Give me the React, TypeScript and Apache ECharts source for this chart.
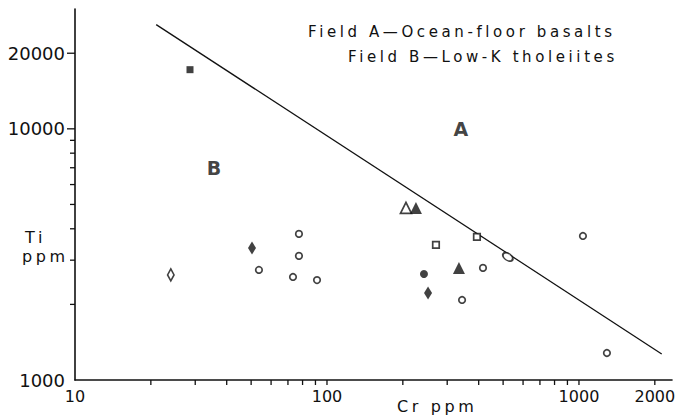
import React, { useEffect, useRef } from "react";
import * as echarts from "echarts";

const INK = "#111111";
const FONT = '"DejaVu Sans", "Noto Sans", sans-serif';

// axis ranges and ticks
const xRange = [10, 2340];
const yRange = [1000, 30000];
const xMajorTicks = [100, 1000, 2000];
const xMinorTicks = [20, 30, 40, 50, 60, 70, 80, 90, 200, 300, 400, 500, 600, 700, 800, 900];
const yMajorTicks = [10000, 20000];
const yMinorTicks = [2000, 3000, 4000, 5000, 6000, 7000, 8000, 9000];
const xExtraLabels = [2000];
const yExtraLabels = [20000];

// data points [Cr ppm, Ti ppm]
const openCircles = [
  [53.7, 2743], [77.4, 3817], [77.4, 3119], [73.3, 2572], [91.3, 2500],
  [343.6, 2083], [416, 2794], [1037, 3745], [1291, 1281],
];
const filledCircles = [[242.6, 2644]];
const openSquares = [[270.7, 3451], [393.6, 3714]];
const filledSquares = [[28.6, 17200]];
const openTriangles = [[205.8, 4842]];
const filledTriangles = [[225.5, 4842], [334, 2794]];
const openDiamonds = [[24.0, 2620]];
const filledDiamonds = [[50.4, 3357], [251.8, 2221]];
const openEllipses = [[522, 3091]];

// boundary between fields A and B
const boundaryLine = [[21, 26000], [2130, 1270]];
const fieldNames = ["A", "B"];
const fieldPositions = [[340, 10000], [35.6, 6990]];

const SPACED = new Set([
  "Field A—Ocean-floor basalts",
  "Field B—Low-K tholeiites",
  "Cr ppm",
  "Ti",
  "ppm",
]);

const isPow10 = (v: number) => Math.abs(Math.log10(v) - Math.round(Math.log10(v))) < 1e-6;

function marker(name: string, data: number[][], symbol: string, size: any, filled: boolean, rotate = 0, z = 3) {
  return {
    type: "scatter",
    name,
    data,
    symbol,
    symbolSize: size,
    symbolRotate: rotate,
    silent: true,
    z,
    itemStyle: filled
      ? { color: INK, borderWidth: 0 }
      : { color: "#ffffff", borderColor: INK, borderWidth: 1.7 },
  };
}

export default function App() {
  const ref = useRef<HTMLDivElement>(null);

  useEffect(() => {
    const el = ref.current!;
    const chart = echarts.init(el, null, { renderer: "svg" });

    const xTickData = xMajorTicks.concat(xMinorTicks).map((v) => [v, yRange[0]]);
    const yTickData = yMajorTicks
      .map((v) => [xRange[0], v, 8])
      .concat(yMinorTicks.map((v) => [xRange[0], v, 5]));

    const option: any = {
      animation: false,
      backgroundColor: "#ffffff",
      grid: { left: 75, right: 17, top: 9, bottom: 39, containLabel: false },
      xAxis: {
        type: "log",
        logBase: 10,
        min: xRange[0],
        max: xRange[1],
        axisLine: { show: true, lineStyle: { color: INK, width: 1.6 } },
        axisTick: { show: false },
        splitLine: { show: false },
        minorTick: { show: false },
        axisLabel: {
          show: true,
          margin: 8,
          color: INK,
          fontSize: 16,
          fontFamily: FONT,
          showMaxLabel: false,
          formatter: (v: number) => (isPow10(v) ? String(Math.round(v)) : ""),
        },
      },
      yAxis: {
        type: "log",
        logBase: 10,
        min: yRange[0],
        max: yRange[1],
        axisLine: { show: true, lineStyle: { color: INK, width: 1.6 } },
        axisTick: { show: false },
        splitLine: { show: false },
        minorTick: { show: false },
        axisLabel: {
          show: true,
          margin: 10,
          color: INK,
          fontSize: 18,
          fontFamily: FONT,
          showMaxLabel: false,
          formatter: (v: number) => (isPow10(v) ? String(Math.round(v)) : ""),
        },
      },
      graphic: [
        {
          type: "text",
          left: 308,
          top: 24,
          style: { text: "Field A—Ocean-floor basalts", font: `15px ${FONT}`, fill: INK },
        },
        {
          type: "text",
          left: 348,
          top: 49,
          style: { text: "Field B—Low-K tholeiites", font: `15px ${FONT}`, fill: INK },
        },
        {
          type: "text",
          left: 397,
          top: 398,
          style: { text: "Cr ppm", font: `16px ${FONT}`, fill: INK },
        },
        {
          type: "text",
          left: 25,
          top: 229,
          style: { text: "Ti", font: `16px ${FONT}`, fill: INK },
        },
        {
          type: "text",
          left: 22,
          top: 248,
          style: { text: "ppm", font: `16px ${FONT}`, fill: INK },
        },
      ],
      series: [
        {
          type: "custom",
          name: "xTicks",
          coordinateSystem: "cartesian2d",
          clip: false,
          silent: true,
          data: xTickData,
          renderItem: (params: any, api: any) => {
            const p = api.coord([api.value(0), api.value(1)]);
            return {
              type: "line",
              shape: { x1: p[0], y1: p[1], x2: p[0], y2: p[1] + 5 },
              style: { stroke: INK, lineWidth: 1.3 },
            };
          },
        },
        {
          type: "custom",
          name: "yTicks",
          coordinateSystem: "cartesian2d",
          clip: false,
          silent: true,
          data: yTickData,
          renderItem: (params: any, api: any) => {
            const p = api.coord([api.value(0), api.value(1)]);
            const len = api.value(2);
            return {
              type: "line",
              shape: { x1: p[0] - len, y1: p[1], x2: p[0], y2: p[1] },
              style: { stroke: INK, lineWidth: 1.3 },
            };
          },
        },
        {
          type: "custom",
          name: "xExtraLabels",
          coordinateSystem: "cartesian2d",
          clip: false,
          silent: true,
          data: xExtraLabels.map((v) => [v, yRange[0]]),
          renderItem: (params: any, api: any) => {
            const p = api.coord([api.value(0), api.value(1)]);
            return {
              type: "text",
              x: p[0],
              y: p[1] + 8,
              style: {
                text: String(api.value(0)),
                align: "center",
                verticalAlign: "top",
                font: `16px ${FONT}`,
                fill: INK,
              },
            };
          },
        },
        {
          type: "custom",
          name: "yExtraLabels",
          coordinateSystem: "cartesian2d",
          clip: false,
          silent: true,
          data: yExtraLabels.map((v) => [xRange[0], v]),
          renderItem: (params: any, api: any) => {
            const p = api.coord([api.value(0), api.value(1)]);
            return {
              type: "text",
              x: p[0] - 10,
              y: p[1],
              style: {
                text: String(api.value(1)),
                align: "right",
                verticalAlign: "middle",
                font: `18px ${FONT}`,
                fill: INK,
              },
            };
          },
        },
        {
          type: "line",
          name: "boundary",
          data: boundaryLine,
          symbol: "none",
          silent: true,
          lineStyle: { color: INK, width: 1.3 },
          z: 2,
        },
        marker("open circles", openCircles, "circle", 6.5, false),
        marker("filled circles", filledCircles, "circle", 8, true),
        marker("open squares", openSquares, "rect", 6.5, false),
        marker("filled squares", filledSquares, "rect", 7, true),
        marker("open triangles", openTriangles, "triangle", [11, 11], false, 0, 3),
        marker("filled triangles", filledTriangles, "triangle", [12, 12], true, 0, 4),
        marker("open diamonds", openDiamonds, "diamond", [6.5, 12], false),
        marker("filled diamonds", filledDiamonds, "diamond", [8, 13], true),
        marker("open ellipses", openEllipses, "circle", [11, 7], false, -35),
        {
          type: "scatter",
          name: "fields",
          silent: true,
          symbolSize: 1,
          itemStyle: { color: "rgba(0,0,0,0)" },
          data: fieldNames.map((n, i) => ({ name: n, value: fieldPositions[i] })),
          label: {
            show: true,
            position: "inside",
            formatter: "{b}",
            fontSize: 19,
            fontWeight: "bold",
            fontFamily: FONT,
            color: INK,
          },
        },
      ],
    };

    chart.setOption(option);

    const applySpacing = () => {
      el.querySelectorAll("text").forEach((t) => {
        if (SPACED.has((t.textContent || "").trim())) t.setAttribute("letter-spacing", "3.6");
      });
    };
    applySpacing();
    chart.on("finished", applySpacing);
    const timer = setTimeout(applySpacing, 50);

    return () => {
      clearTimeout(timer);
      chart.dispose();
    };
  }, []);

  return (
    <div
      ref={ref}
      style={{ position: "fixed", left: 0, top: 0, width: 689, height: 419, background: "#ffffff" }}
    />
  );
}
